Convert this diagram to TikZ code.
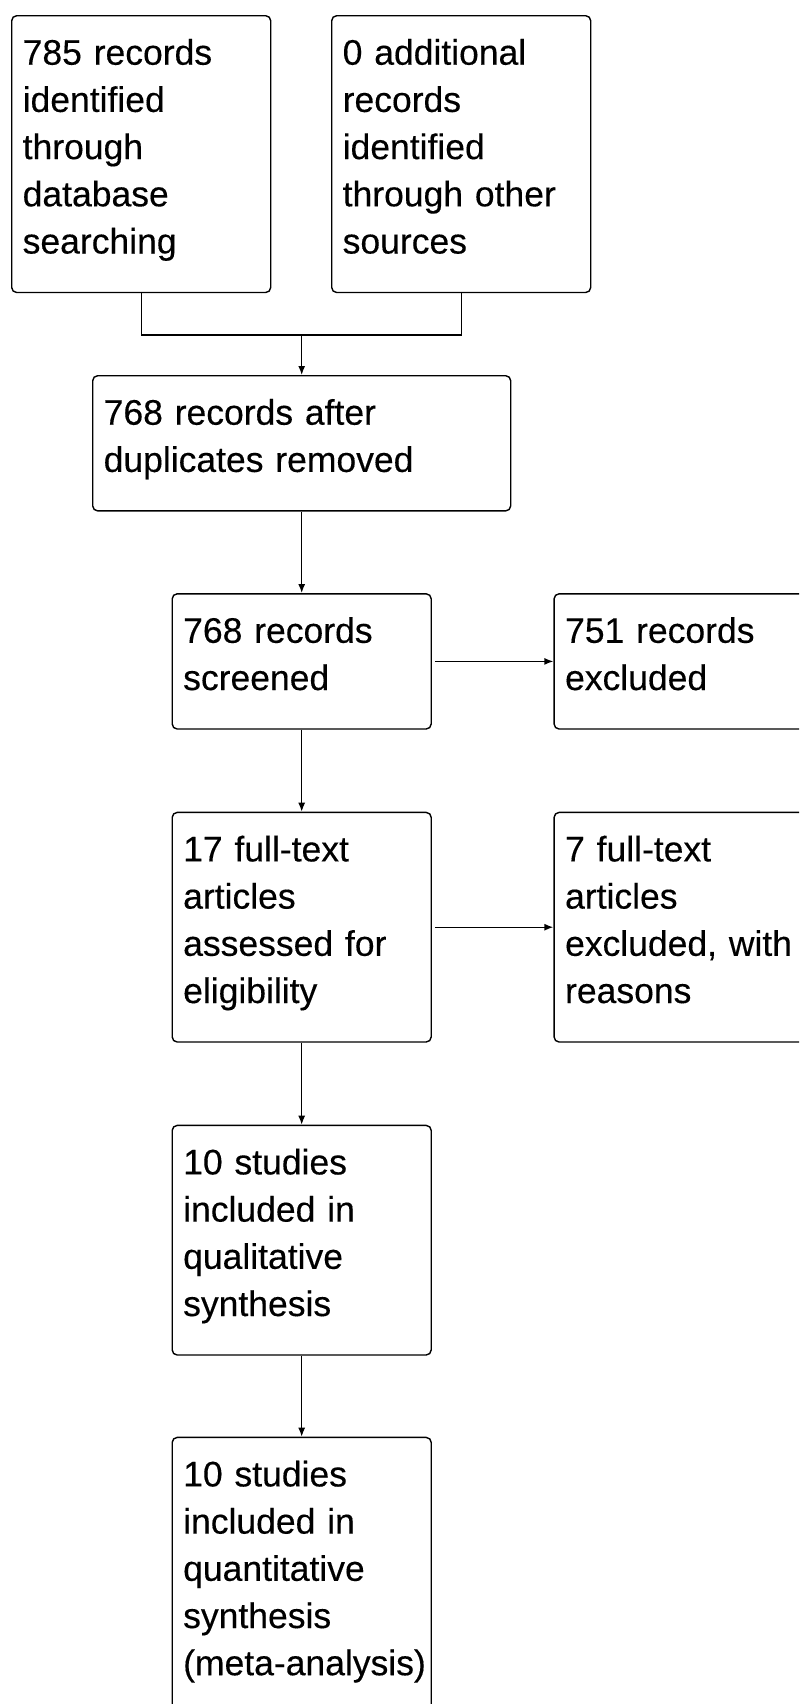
\documentclass[tikz,border=0pt]{standalone}
\usepackage{fontspec}
\setmainfont{Liberation Sans}[UprightFeatures={FakeBold=0.3}]
\usetikzlibrary{calc,positioning,arrows.meta}

\begin{document}
\begin{tikzpicture}[x=.5pt,y=-.5pt,
    stage/.style={rectangle,draw=black,line width=.7pt,rounded corners=2.5pt,
      anchor=north west,inner xsep=5.5pt,inner ysep=0pt,align=left,
      text width=118.5pt,font=\fontsize{17.75pt}{23.6pt}\selectfont,
      execute at begin node={\rule{0pt}{24.5pt}},
      execute at end node={\rule[-19.5pt]{0pt}{19.5pt}}},
    link/.style={draw=black,line width=.7pt},
    flow/.style={link,-{Latex[length=4.5pt,width=3.5pt]}}]

  \useasboundingbox (0,0) rectangle (799,1704);
  \clip (0,0) rectangle (799,1704);

  %% identification
  \node (records_db) [stage] at(11,15) {785 records\\identified\\through\\database\\searching};
  \node (records_other) [stage] at(331,15) {0 additional\\records\\identified\\through other\\sources};
  \node (dedup) [stage,text width=198pt] at(92,375) {768 records after\\duplicates removed};

  %% screening and eligibility
  \node (screened) [stage,below=40.75pt of dedup] {768 records\\screened};
  \node (excluded) [stage,right=60.75pt of screened] {751 records\\excluded};
  \node (full_text) [stage,below=41pt of screened] {17 full-text\\articles\\assessed for\\eligibility};
  \node (full_text_excl) [stage,right=60.75pt of full_text] {7 full-text\\articles\\excluded, with\\reasons};

  %% included
  \node (qualitative) [stage,below=41pt of full_text] {10 studies\\included in\\qualitative\\synthesis};
  \node (quantitative) [stage,below=40.5pt of qualitative] {10 studies\\included in\\quantitative\\synthesis\\\mbox{(meta-analysis)}};

  \coordinate (merge) at($(dedup.north)+(0,-40)$);
  \draw[link] (records_db.south) |- (merge) -| (records_other.south);
  \draw[flow] (merge) -- (dedup.north);

  \foreach \a/\b in {dedup/screened,screened/full_text,full_text/qualitative,qualitative/quantitative}
           {
             \draw[flow] (\a.south) -- (\b.north);
           }

  \draw[flow,shorten <=1.5pt] (screened.east) -- (excluded.west);
  \draw[flow,shorten <=1.5pt] (full_text.east) -- (full_text_excl.west);

\end{tikzpicture}
\end{document}
